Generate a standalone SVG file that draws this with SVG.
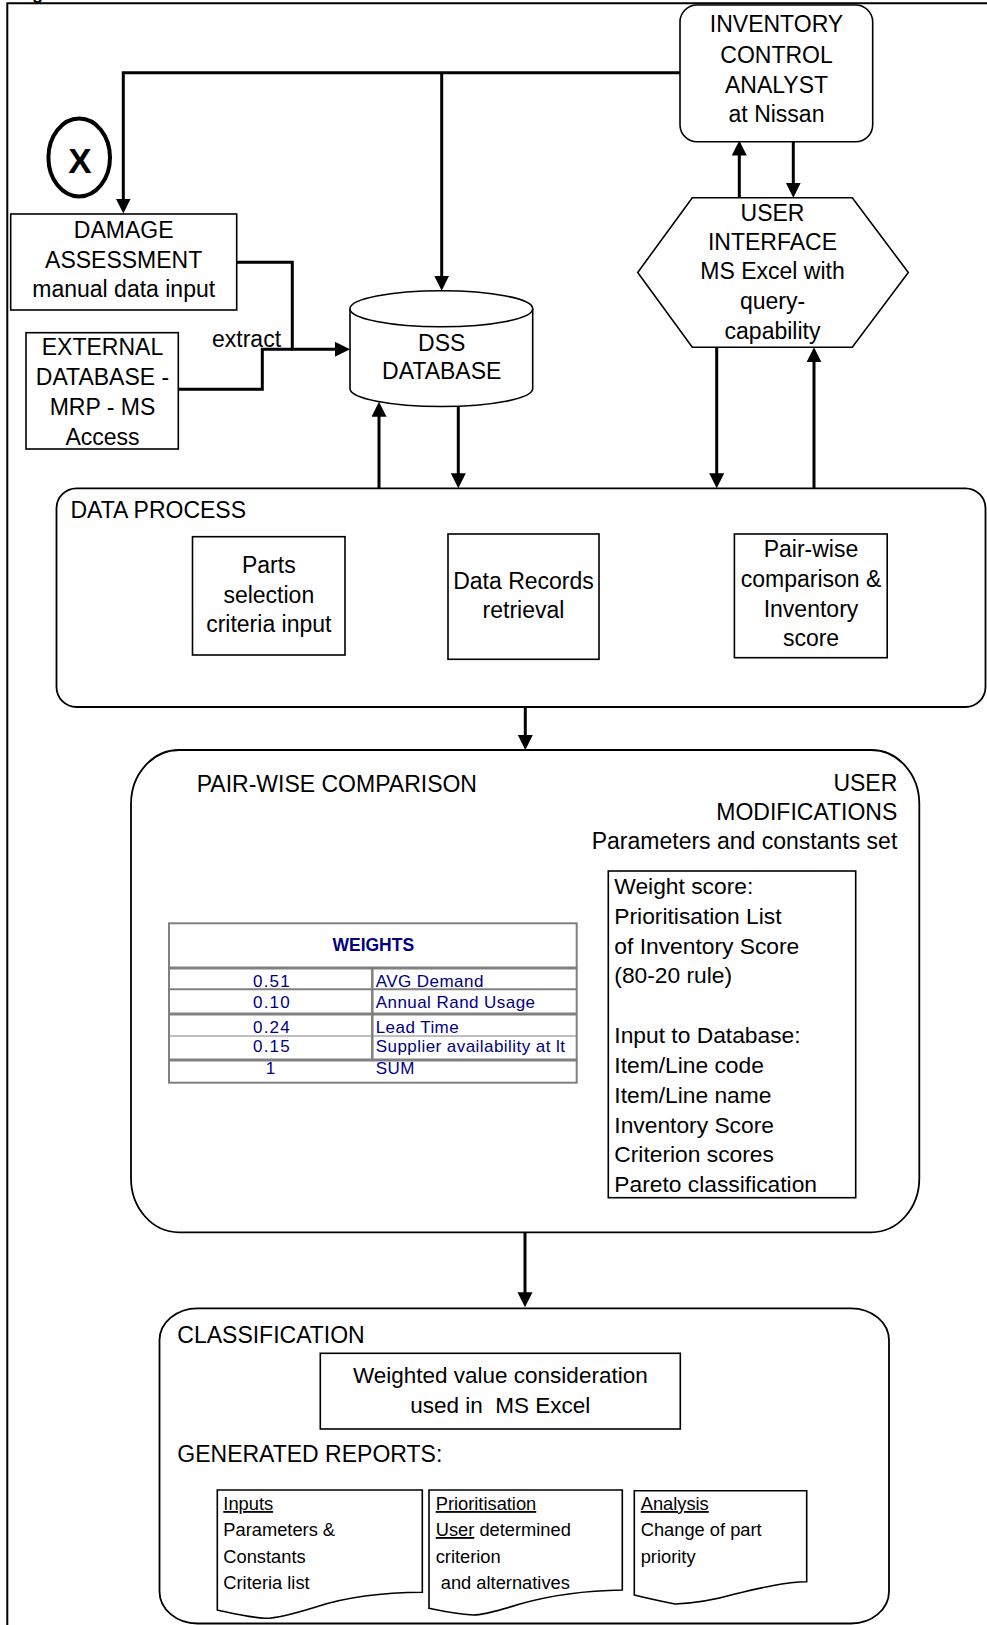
<svg xmlns="http://www.w3.org/2000/svg" width="987" height="1625" viewBox="0 0 987 1625">
  <style>
    text { font-family: "Liberation Sans", Arial, Helvetica, sans-serif; fill: #000; }
    .lbl { font-size: 23px; }
    .mid { text-anchor: middle; }
    .end { text-anchor: end; }
    .box { fill: #fff; stroke: #000; stroke-width: 1.6; }
    .panel { fill: none; stroke: #000; stroke-width: 1.8; }
    .conn { fill: none; stroke: #000; stroke-width: 3; }
    .arrow { marker-end: url(#head); }
    .wt { font-size: 17px; fill: #000080; letter-spacing: 0.45px; }
    .num { font-size: 17px; fill: #000080; letter-spacing: 1.2px; text-anchor: middle; }
    .grid { stroke: #808080; fill: none; }
    .doc { font-size: 18.3px; }
    .ul { text-decoration: underline; }
  </style>
  <defs>
    <marker id="head" markerUnits="userSpaceOnUse" markerWidth="16" markerHeight="16" refX="10" refY="7.5" orient="auto">
      <path d="M0,0 L15,7.5 L0,15 Z" fill="#000"/>
    </marker>
  </defs>

  <rect width="987" height="1625" fill="#fff"/>

  <!-- caption descender above the frame -->
  <text x="32" y="-1.5" style="font-size:18px;font-weight:bold">g</text>

  <!-- outer frame -->
  <path d="M7.3,1625 V3.3 H987" fill="none" stroke="#000" stroke-width="2"/>

  <!-- X marker -->
  <g id="marker-x">
    <ellipse cx="79.2" cy="157.5" rx="30.8" ry="39" fill="none" stroke="#000" stroke-width="4"/>
    <text x="80" y="172.5" class="mid" style="font-size:35px;font-weight:bold">X</text>
  </g>

  <!-- connectors -->
  <g id="connectors">
    <path class="conn arrow" d="M680,72.7 H123.3 V208.5"/>
    <path class="conn arrow" d="M441.7,72.7 V285.7"/>
    <path class="conn arrow" d="M236.7,262.3 H292.3 V349.3 H345"/>
    <path class="conn" d="M178.3,389.3 H262.3 V349.3 H292.3"/>
    <path class="conn arrow" d="M379,488.3 V406.7"/>
    <path class="conn arrow" d="M458.3,405.5 V483.3"/>
    <path class="conn arrow" d="M739.3,198 V145.5"/>
    <path class="conn arrow" d="M793.3,141.7 V192.7"/>
    <path class="conn arrow" d="M716.7,347.3 V483.3"/>
    <path class="conn arrow" d="M814,488.3 V352.3"/>
    <path class="conn arrow" d="M525.3,707 V745"/>
    <path class="conn arrow" d="M525,1232.3 V1302.3"/>
    <text x="212" y="346.7" class="lbl">extract</text>
  </g>

  <!-- inventory control analyst -->
  <g id="analyst">
    <rect class="box" x="680" y="5" width="192.7" height="136.7" rx="17"/>
    <text class="lbl mid" x="776.5" y="32.3">INVENTORY</text>
    <text class="lbl mid" x="776.5" y="62.7">CONTROL</text>
    <text class="lbl mid" x="776.5" y="92.7">ANALYST</text>
    <text class="lbl mid" x="776.5" y="121.7">at Nissan</text>
  </g>

  <!-- user interface -->
  <g id="user-interface">
    <polygon class="box" points="692.3,197.7 852.3,197.7 908.3,272.5 852.3,347.3 692.3,347.3 637.7,272.5"/>
    <text class="lbl mid" x="772.5" y="220.7">USER</text>
    <text class="lbl mid" x="772.5" y="250">INTERFACE</text>
    <text class="lbl mid" x="772.5" y="279.3">MS Excel with</text>
    <text class="lbl mid" x="772.5" y="309.3">query-</text>
    <text class="lbl mid" x="772.5" y="339.3">capability</text>
  </g>

  <!-- damage assessment -->
  <g id="damage-assessment">
    <rect class="box" x="10.7" y="214" width="226" height="96"/>
    <text class="lbl mid" x="123.7" y="237.7">DAMAGE</text>
    <text class="lbl mid" x="123.7" y="267.7">ASSESSMENT</text>
    <text class="lbl mid" x="123.7" y="296.7">manual data input</text>
  </g>

  <!-- external database -->
  <g id="external-database">
    <rect class="box" x="26" y="332.7" width="152.3" height="116.3"/>
    <text class="lbl mid" x="102.5" y="355">EXTERNAL</text>
    <text class="lbl mid" x="102.5" y="385">DATABASE -</text>
    <text class="lbl mid" x="102.5" y="415">MRP - MS</text>
    <text class="lbl mid" x="102.5" y="445">Access</text>
  </g>

  <!-- DSS database -->
  <g id="dss-database">
    <path class="box" d="M350,308.7 A91.35,18 0 0 1 532.7,308.7 V388.5 A91.35,18 0 0 1 350,388.5 Z"/>
    <path class="box" d="M350,308.7 A91.35,18 0 0 0 532.7,308.7" fill="none"/>
    <text class="lbl mid" x="441.7" y="351">DSS</text>
    <text class="lbl mid" x="441.7" y="379.3">DATABASE</text>
  </g>

  <!-- data process -->
  <g id="data-process">
    <rect class="panel" x="56.5" y="488.3" width="929" height="218.7" rx="20"/>
    <text class="lbl" x="70.5" y="518.3">DATA PROCESS</text>
  </g>
  <g id="parts-selection">
    <rect class="box" x="192.5" y="536.7" width="152.5" height="118.3"/>
    <text class="lbl mid" x="268.8" y="572.7">Parts</text>
    <text class="lbl mid" x="268.8" y="602.7">selection</text>
    <text class="lbl mid" x="268.8" y="631.7">criteria input</text>
  </g>
  <g id="data-records">
    <rect class="box" x="448" y="534" width="151" height="125.3"/>
    <text class="lbl mid" x="523.5" y="589.3">Data Records</text>
    <text class="lbl mid" x="523.5" y="618.3">retrieval</text>
  </g>
  <g id="pairwise-score">
    <rect class="box" x="734.4" y="534" width="152.8" height="123.7"/>
    <text class="lbl mid" x="811" y="556.7">Pair-wise</text>
    <text class="lbl mid" x="811" y="586.7">comparison &amp;</text>
    <text class="lbl mid" x="811" y="616.7">Inventory</text>
    <text class="lbl mid" x="811" y="646">score</text>
  </g>

  <!-- pair-wise comparison -->
  <g id="pairwise-comparison">
    <rect class="panel" x="131" y="750" width="788.3" height="482.3" rx="48" ry="54"/>
    <text class="lbl" x="196.7" y="791.7">PAIR-WISE COMPARISON</text>
    <text class="lbl end" x="897.3" y="791">USER</text>
    <text class="lbl end" x="897.3" y="820">MODIFICATIONS</text>
    <text class="lbl end" x="897.3" y="849.3">Parameters and constants set</text>
  </g>

  <!-- weights table -->
  <g id="weights-table">
    <rect class="grid" x="169" y="923.3" width="407.7" height="159.4" stroke-width="2"/>
    <line class="grid" x1="169" y1="968" x2="577.5" y2="968" stroke-width="3"/>
    <line class="grid" x1="169" y1="989.3" x2="576.7" y2="989.3" stroke-width="2"/>
    <line class="grid" x1="169" y1="1014" x2="576.7" y2="1014" stroke-width="3"/>
    <line class="grid" x1="169" y1="1036" x2="576.7" y2="1036" stroke-width="1"/>
    <line class="grid" x1="169" y1="1060" x2="577.5" y2="1060" stroke-width="3"/>
    <line class="grid" x1="372.3" y1="968" x2="372.3" y2="1060" stroke-width="2.5"/>
    <text x="373.3" y="951" class="mid" style="font-size:17.5px;font-weight:bold;fill:#000080">WEIGHTS</text>
    <text class="num" x="272" y="986.7">0.51</text>
    <text class="num" x="272" y="1007.7">0.10</text>
    <text class="num" x="272" y="1032.7">0.24</text>
    <text class="num" x="272" y="1051.7">0.15</text>
    <text class="num" x="271" y="1074">1</text>
    <text class="wt" x="375.7" y="986.7">AVG Demand</text>
    <text class="wt" x="375.7" y="1007.7">Annual Rand Usage</text>
    <text class="wt" x="375.7" y="1032.7">Lead Time</text>
    <text class="wt" x="375.7" y="1051.7">Supplier availability at lt</text>
    <text class="wt" x="375.7" y="1074">SUM</text>
  </g>

  <!-- weight score list -->
  <g id="weight-score">
    <rect class="box" x="608.3" y="871" width="247.4" height="326.7"/>
    <g style="font-size:22.8px">
      <text x="614.3" y="894">Weight score:</text>
      <text x="614.3" y="924">Prioritisation List</text>
      <text x="614.3" y="954">of Inventory Score</text>
      <text x="614.3" y="983.3">(80-20 rule)</text>
      <text x="614.3" y="1043.3">Input to Database:</text>
      <text x="614.3" y="1072.7">Item/Line code</text>
      <text x="614.3" y="1102.7">Item/Line name</text>
      <text x="614.3" y="1132.7">Inventory Score</text>
      <text x="614.3" y="1161.7">Criterion scores</text>
      <text x="614.3" y="1191.7">Pareto classification</text>
    </g>
  </g>

  <!-- classification -->
  <g id="classification">
    <rect class="panel" x="159.5" y="1308.3" width="729.5" height="315.2" rx="38" ry="32"/>
    <text class="lbl" x="177.3" y="1342.7">CLASSIFICATION</text>
    <text class="lbl" x="177.3" y="1461.7">GENERATED REPORTS:</text>
  </g>
  <g id="weighted-value">
    <rect class="box" x="320.3" y="1353.3" width="360" height="75.7"/>
    <text class="mid" x="500.3" y="1383.3" style="font-size:22.5px">Weighted value consideration</text>
    <text class="mid" x="500.3" y="1413.3" style="font-size:22.5px" xml:space="preserve">used in  MS Excel</text>
  </g>

  <!-- generated reports -->
  <g id="report-inputs">
    <path class="box" d="M217.3,1490 H422.3 V1592.3 C390,1592.5 350,1596 316.7,1606.7 C290,1615 276,1618.5 265,1618.3 C246,1617 231,1613 217.3,1610 Z"/>
    <text class="doc ul" x="223.3" y="1510">Inputs</text>
    <text class="doc" x="223.3" y="1536">Parameters &amp;</text>
    <text class="doc" x="223.3" y="1562.7">Constants</text>
    <text class="doc" x="223.3" y="1589">Criteria list</text>
  </g>
  <g id="report-prioritisation">
    <path class="box" d="M429,1490 H622.3 V1590 C590,1590.5 555,1594 520,1604 C496,1611.5 483,1615 473,1615 C455,1614 442,1611 429,1608.3 Z"/>
    <text class="doc ul" x="435.7" y="1510">Prioritisation</text>
    <text class="doc" x="435.7" y="1536"><tspan class="ul">User</tspan> determined</text>
    <text class="doc" x="435.7" y="1562.7">criterion</text>
    <text class="doc" x="435.7" y="1589" xml:space="preserve"> and alternatives</text>
  </g>
  <g id="report-analysis">
    <path class="box" d="M634.3,1490.7 H806.7 V1581.7 C785,1582 760,1588 735,1594 C716,1599.5 700,1603 675,1604 C660,1601 646,1598 634.3,1595 Z"/>
    <text class="doc ul" x="640.7" y="1510">Analysis</text>
    <text class="doc" x="640.7" y="1536">Change of part</text>
    <text class="doc" x="640.7" y="1562.7">priority</text>
  </g>
</svg>
